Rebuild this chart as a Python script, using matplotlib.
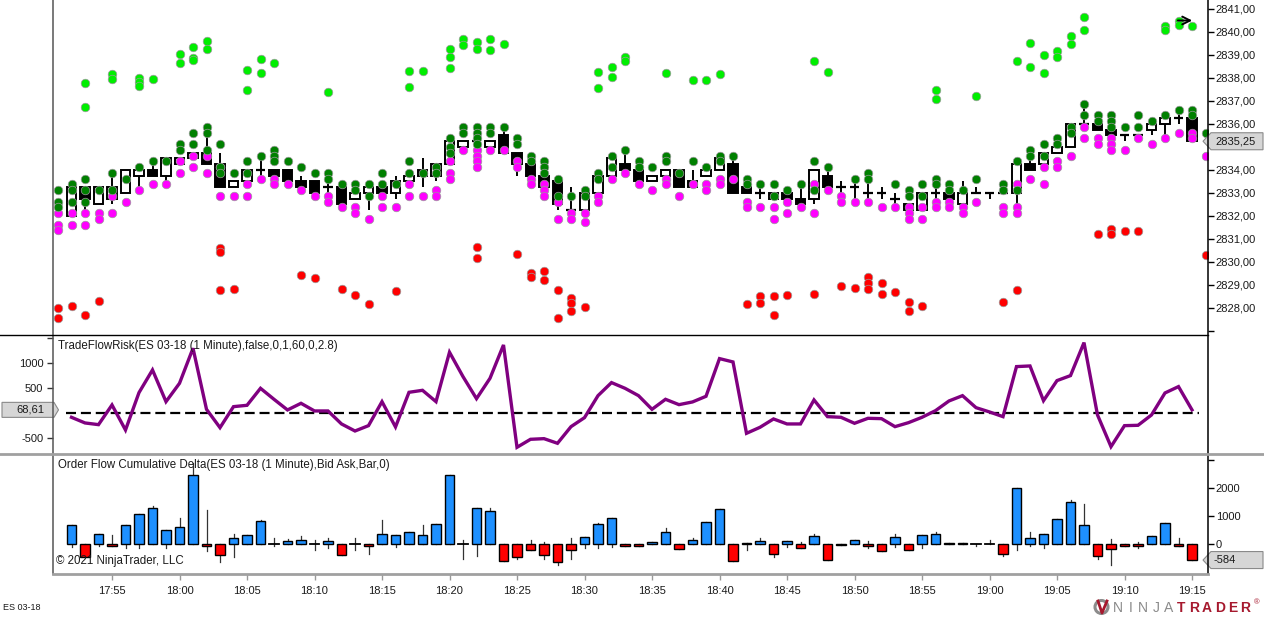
import matplotlib
matplotlib.use('Agg')
import matplotlib.pyplot as plt
from matplotlib.patches import Rectangle, Polygon, Circle
import numpy as np

plt.rcParams['font.family'] = ['Liberation Sans', 'DejaVu Sans']

# ---------------- data ----------------
first_minute = (17, 51)          # bar index 0 = 17:51
tick_labels = ["17:55", "18:00", "18:05", "18:10", "18:15", "18:20", "18:25", "18:30",
               "18:35", "18:40", "18:45", "18:50", "18:55", "19:00", "19:05", "19:10", "19:15"]
tick_index = [4 + 5 * k for k in range(len(tick_labels))]

candle_start = 1
candle_open = [2832.0, 2833.25, 2832.5, 2832.75, 2833.0, 2833.75, 2834.0, 2833.75, 2834.25, 2834.5,
               2834.75, 2834.25, 2833.25, 2833.5, 2834.0, 2834.0, 2834.0, 2833.5, 2833.5, 2833.25,
               2833.25, 2832.75, 2833.0, 2833.25, 2833.0, 2833.5, 2834.0, 2833.75, 2834.25, 2835.0,
               2835.25, 2835.0, 2835.5, 2834.75, 2834.25, 2833.75, 2833.5, 2832.25, 2832.25, 2833.0,
               2833.75, 2834.25, 2834.0, 2833.5, 2833.75, 2834.0, 2833.5, 2833.75, 2834.0, 2834.25,
               2833.25, 2833.0, 2833.0, 2833.0, 2832.75, 2832.75, 2833.75, 2833.25, 2833.25, 2833.0,
               2833.0, 2832.75, 2832.5, 2832.25, 2833.0, 2833.0, 2832.5, 2833.0, 2833.0, 2833.0,
               2833.0, 2834.25, 2834.25, 2834.75, 2835.0, 2836.0, 2836.0, 2835.75, 2835.5, 2835.5,
               2835.75, 2836.0, 2836.25, 2836.25]
candle_high = [2833.25, 2833.25, 2833.25, 2834.0, 2834.0, 2834.0, 2834.25, 2834.5, 2834.5, 2834.75,
               2835.5, 2834.75, 2833.5, 2834.0, 2834.5, 2834.0, 2834.0, 2833.75, 2833.5, 2833.75,
               2833.25, 2833.0, 2833.25, 2833.5, 2833.75, 2833.75, 2834.5, 2834.25, 2835.25, 2835.25,
               2835.25, 2835.25, 2835.75, 2834.75, 2834.25, 2833.75, 2833.5, 2833.25, 2833.0, 2833.75,
               2834.5, 2834.75, 2834.0, 2833.75, 2834.0, 2834.0, 2834.0, 2834.0, 2834.5, 2834.5,
               2833.25, 2833.25, 2833.0, 2833.0, 2833.25, 2834.0, 2834.0, 2833.5, 2833.5, 2833.5,
               2833.25, 2833.0, 2832.5, 2833.0, 2833.25, 2833.0, 2833.5, 2833.25, 2833.0, 2833.0,
               2834.25, 2834.5, 2834.75, 2835.0, 2836.0, 2836.75, 2836.0, 2835.75, 2835.5, 2835.5,
               2836.0, 2836.25, 2836.5, 2836.25]
candle_low = [2832.0, 2832.25, 2832.5, 2832.5, 2833.0, 2833.25, 2833.75, 2833.5, 2834.25, 2834.5,
              2834.25, 2833.25, 2833.25, 2833.5, 2833.75, 2833.75, 2833.5, 2833.25, 2833.0, 2832.75,
              2832.5, 2832.75, 2832.25, 2832.75, 2832.75, 2833.5, 2833.25, 2833.5, 2834.25, 2835.0,
              2835.25, 2835.0, 2834.75, 2833.75, 2833.75, 2833.25, 2832.25, 2832.25, 2832.25, 2833.0,
              2833.75, 2834.0, 2833.5, 2833.5, 2833.75, 2833.25, 2833.25, 2833.75, 2834.0, 2833.0,
              2833.0, 2832.75, 2832.75, 2832.75, 2832.5, 2832.5, 2833.25, 2833.0, 2832.75, 2832.75,
              2832.75, 2832.5, 2832.25, 2832.25, 2832.75, 2832.75, 2832.5, 2833.0, 2832.75, 2833.0,
              2832.5, 2834.0, 2834.25, 2834.75, 2835.0, 2836.0, 2835.75, 2835.5, 2835.25, 2835.5,
              2835.5, 2835.5, 2836.0, 2835.25]
candle_close = [2833.25, 2832.75, 2833.25, 2833.25, 2834.0, 2834.0, 2833.75, 2834.5, 2834.5, 2834.75,
                2834.25, 2833.25, 2833.5, 2834.0, 2834.0, 2833.75, 2833.5, 2833.25, 2833.0, 2833.25,
                2832.5, 2833.0, 2833.25, 2833.0, 2833.5, 2833.75, 2833.75, 2834.25, 2835.25, 2835.25,
                2835.25, 2835.25, 2834.75, 2834.25, 2833.75, 2833.25, 2832.5, 2832.25, 2833.0, 2833.75,
                2834.5, 2834.0, 2833.5, 2833.75, 2834.0, 2833.25, 2833.25, 2834.0, 2834.5, 2833.0,
                2833.0, 2833.0, 2832.75, 2832.75, 2832.5, 2834.0, 2833.25, 2833.25, 2833.25, 2833.0,
                2833.0, 2832.75, 2832.25, 2833.0, 2833.0, 2832.75, 2833.0, 2833.0, 2833.0, 2833.0,
                2834.25, 2834.0, 2834.75, 2835.0, 2836.0, 2836.0, 2835.75, 2835.5, 2835.5, 2835.5,
                2836.0, 2836.25, 2836.25, 2835.25]

green_dots = {
    0: [2833.125, 2832.625, 2832.375], 1: [2833.375, 2833.125, 2832.625], 2: [2833.625, 2833.125, 2832.625],
    3: [2833.125], 4: [2833.875, 2833.125], 5: [2833.625], 6: [2834.125], 7: [2834.375], 8: [2834.375],
    9: [2835.125, 2834.875], 10: [2835.625, 2835.125], 11: [2835.875, 2835.625, 2834.875],
    12: [2835.125, 2834.125, 2833.875], 13: [2833.875], 14: [2834.375, 2833.875], 15: [2834.625],
    16: [2834.875, 2834.625, 2834.375], 17: [2834.375], 18: [2834.125], 19: [2833.875],
    20: [2833.875, 2833.625], 21: [2833.375], 22: [2833.375, 2833.125], 23: [2833.375, 2832.875],
    24: [2833.875, 2833.375], 25: [2833.375], 26: [2834.375, 2833.875], 27: [2833.875],
    28: [2834.125, 2833.875], 29: [2835.375, 2835.0, 2834.75], 30: [2835.875, 2835.625],
    31: [2835.875, 2835.625, 2835.375, 2835.125], 32: [2835.875, 2835.625], 33: [2835.875],
    34: [2835.375, 2835.125], 35: [2834.625, 2834.375], 36: [2834.375, 2834.125, 2833.875],
    37: [2833.625, 2832.875], 38: [2832.875], 39: [2833.125, 2832.875], 40: [2833.875, 2833.625],
    41: [2834.625, 2834.125], 42: [2834.875], 43: [2834.375, 2834.125], 44: [2834.125],
    45: [2834.625, 2834.375], 46: [2833.875], 47: [2834.375], 48: [2834.125], 49: [2834.625, 2834.375],
    50: [2834.625], 51: [2833.625, 2833.375], 52: [2833.375], 53: [2833.375, 2832.875], 54: [2833.125],
    55: [2833.375], 56: [2834.375, 2833.125], 57: [2834.125], 59: [2833.625], 60: [2833.875, 2833.625],
    62: [2833.375], 63: [2833.125, 2832.875], 64: [2833.375, 2832.875], 65: [2833.625, 2833.375],
    66: [2833.375, 2833.125], 67: [2833.125], 68: [2833.625], 70: [2833.375, 2833.125],
    71: [2834.375, 2833.125], 72: [2834.875, 2834.625], 73: [2835.125, 2834.625], 74: [2835.375, 2835.125],
    75: [2835.875, 2835.625], 76: [2836.875, 2836.375], 77: [2836.375, 2836.125],
    78: [2836.375, 2836.125, 2835.875], 79: [2835.875], 80: [2836.375, 2835.875], 81: [2836.125],
    82: [2836.375], 83: [2836.625], 84: [2836.625, 2836.375], 85: [2835.625],
}
magenta_dots = {
    0: [2832.125, 2831.625, 2831.375], 1: [2832.125, 2831.625], 2: [2832.125, 2831.625],
    3: [2832.125, 2831.875], 4: [2832.875, 2832.125], 5: [2832.625], 6: [2833.125], 7: [2833.375],
    8: [2833.375], 9: [2834.375, 2833.875], 10: [2834.625, 2834.125], 11: [2834.625, 2833.875],
    12: [2834.125, 2832.875], 13: [2832.875], 14: [2833.375, 2832.875], 15: [2833.625],
    16: [2833.625, 2833.375], 17: [2833.375], 18: [2833.125], 19: [2832.875], 20: [2832.875, 2832.625],
    21: [2832.375], 22: [2832.375, 2832.125], 23: [2831.875], 24: [2832.875, 2832.375], 25: [2832.375],
    26: [2833.375, 2832.875], 27: [2832.875], 28: [2833.125, 2832.875], 29: [2834.375, 2833.875, 2833.625],
    30: [2834.875], 31: [2834.875, 2834.625, 2834.375, 2834.125], 32: [2834.875], 33: [2834.875],
    34: [2834.375, 2834.125], 35: [2833.625, 2833.375], 36: [2833.375, 2833.125, 2832.875],
    37: [2832.625, 2831.875], 38: [2832.125, 2831.875], 39: [2832.125, 2831.75], 40: [2832.875, 2832.625],
    41: [2833.625], 42: [2833.875], 43: [2833.375], 44: [2833.125], 45: [2833.625, 2833.375],
    46: [2832.875], 47: [2833.375], 48: [2833.375, 2833.125], 49: [2833.625, 2833.375], 50: [2833.625],
    51: [2832.625, 2832.375], 52: [2832.375], 53: [2832.375, 2831.875], 54: [2832.625, 2832.125],
    55: [2832.375], 56: [2833.375, 2832.125], 57: [2833.125], 58: [2832.875, 2832.625],
    59: [2832.625], 60: [2832.625], 61: [2832.375], 62: [2832.375], 63: [2832.375, 2832.125, 2831.875],
    64: [2832.375, 2831.875], 65: [2832.625, 2832.375], 66: [2832.625, 2832.375], 67: [2832.375, 2832.125],
    68: [2832.625], 70: [2832.375, 2832.125], 71: [2833.375, 2832.375, 2832.125], 72: [2833.625],
    73: [2834.125, 2833.375], 74: [2834.375, 2834.125], 75: [2834.625], 76: [2835.875, 2835.375],
    77: [2835.375, 2835.125], 78: [2835.375, 2835.125, 2834.875], 79: [2834.875], 80: [2835.375],
    81: [2835.125], 82: [2835.375], 83: [2835.625], 84: [2835.625, 2835.375], 85: [2834.625],
}
red_dots = {
    0: [2828.0, 2827.57], 1: [2828.1], 2: [2827.71], 3: [2828.3], 12: [2830.62, 2830.45, 2828.78],
    13: [2828.83], 18: [2829.45], 19: [2829.32], 21: [2828.83], 22: [2828.55], 23: [2828.17],
    25: [2828.75], 31: [2830.64, 2830.19], 34: [2830.36], 35: [2829.52, 2829.35], 36: [2829.61, 2829.2],
    37: [2828.8, 2827.58], 38: [2828.43, 2828.22, 2827.86], 39: [2828.03], 51: [2828.17],
    52: [2828.53, 2828.2], 53: [2828.52, 2827.68], 54: [2828.57], 56: [2828.6], 58: [2828.97],
    59: [2828.86], 60: [2829.35, 2829.07, 2828.81], 61: [2829.07, 2828.61], 62: [2828.71],
    63: [2828.27, 2827.88], 64: [2828.09], 70: [2828.25], 71: [2828.78], 77: [2831.22],
    78: [2831.42, 2831.22], 79: [2831.33], 80: [2831.35], 85: [2830.29],
}
lime_dots = {
    2: [2837.77, 2836.73], 4: [2838.19, 2837.94], 6: [2838.01, 2837.84, 2837.65], 7: [2837.94],
    9: [2839.06, 2838.67], 10: [2839.36, 2838.86, 2838.77], 11: [2839.61, 2839.27],
    14: [2838.33, 2837.47], 15: [2838.84, 2838.22], 16: [2838.64], 20: [2837.39],
    26: [2838.32, 2837.62], 27: [2838.32], 29: [2839.25, 2838.93, 2838.45], 30: [2839.68, 2839.42],
    31: [2839.55, 2839.25], 32: [2839.68, 2839.22], 33: [2839.46], 40: [2838.26, 2837.55],
    41: [2838.49, 2838.03], 42: [2838.93, 2838.75], 45: [2838.22], 47: [2837.9], 48: [2837.9],
    49: [2838.19], 56: [2838.74], 57: [2838.26], 65: [2837.48, 2837.07], 68: [2837.23],
    71: [2838.74], 72: [2839.54, 2838.49], 73: [2838.99, 2838.22], 74: [2839.17, 2838.9],
    75: [2839.83, 2839.46], 76: [2840.65, 2840.07], 82: [2840.26, 2840.09], 83: [2840.48, 2840.3],
    84: [2840.26],
}

tfr_start = 1
tfr_values = [-80, -193, -227, 167, -334, 414, 867, 233, 600, 1301,
              80, -287, 133, 160, 500, 280, 67, 200, 47, 47,
              -213, -354, -247, 233, -273, 420, 460, 233, 1221, 734,
              293, 700, 1367, -680, -520, -507, -600, -267, -87, 353,
              614, 500, 353, 80, 280, 173, 227, 340, 1094, 1027,
              -400, -280, -113, -213, -213, 267, -67, -80, -200, -100,
              -107, -267, -187, -80, 53, 247, 353, 113, 27, -67,
              934, 947, 253, 654, 754, 1414, -33, -667, -247, -240,
              -33, 407, 534, 68.61]

delta_start = 1
delta_close = [651, -458, 361, -96, 675, 1060, 1289, 482, 602, 2446,
               -72, -410, 217, 313, 819, 0, 96, 133, 0, 96,
               -410, 0, -72, 361, 313, 410, 313, 699, 2470, 0,
               1277, 1169, -615, -458, -229, -410, -639, -229, 229, 699,
               916, -72, -72, 48, 410, -205, 120, 759, 1253, -603,
               36, 96, -361, 96, -169, 277, -566, -60, 120, -96,
               -253, 229, -217, 301, 337, 36, 36, 0, 0, -374,
               2000, 193, 337, 880, 1506, 675, -422, -205, -84, -72,
               277, 735, -84, -584]
delta_high = [651, 0, 361, 313, 675, 1060, 1362, 482, 916, 2900,
              1217, 0, 337, 313, 855, 193, 169, 277, 133, 193,
              0, 193, 0, 855, 313, 410, 651, 699, 2470, 133,
              1277, 1277, 0, 0, 120, 48, 0, 217, 229, 735,
              916, 0, 0, 48, 555, 0, 193, 759, 1253, 0,
              36, 193, 0, 96, 48, 337, 0, 0, 120, 96,
              0, 350, 0, 301, 434, 36, 36, 0, 133, 0,
              2000, 410, 337, 880, 1554, 1434, 0, 157, 0, 48,
              277, 735, 193, 0]
delta_low = [-108, -458, -72, -96, -145, -169, 0, -169, 0, 0,
             -265, -651, -470, 0, 0, -72, 0, 0, -229, -169,
             -410, -229, -350, 0, -108, 0, 0, 0, 0, -530,
             -446, 0, -615, -530, -229, -530, -747, -530, -145, -145,
             -108, -72, -72, 0, 0, -205, 0, 0, 0, -603,
             -229, 0, -470, -108, -169, 0, -566, -60, 0, -169,
             -253, -108, -217, -169, 0, 0, 0, -84, 0, -446,
             -229, -84, -169, 0, 0, 0, -530, -747, -84, -145,
             0, 0, -84, -584]

# ---------------- layout ----------------
W, H = 1264, 617
fig = plt.figure(figsize=(W / 100, H / 100), dpi=100)
fig.patch.set_facecolor('white')

X0_PX, X1_PX = 53, 1207.5
BAR0_PX, BAR_STEP = 58.0, 13.5
xlim = ((X0_PX - BAR0_PX) / BAR_STEP, (X1_PX - BAR0_PX) / BAR_STEP)


def px_axes(x0, y0, x1, y1):
    a = fig.add_axes([x0 / W, 1 - y1 / H, (x1 - x0) / W, (y1 - y0) / H])
    a.set_facecolor('none')
    for s in a.spines.values():
        s.set_visible(False)
    a.set_xlim(*xlim)
    a.set_xticks([])
    return a


TXT = '#1a1a1a'
FS = 8

# price panel
ax_p = px_axes(X0_PX, 0, X1_PX, 335)
ax_p.set_ylim(2841 - 326 / 23, 2841 + 9 / 23)
ax_p.yaxis.tick_right()
pticks = list(range(2827, 2842))
ax_p.set_yticks(pticks)
ax_p.set_yticklabels(['' if t == 2827 else f"{t:.2f}".replace('.', ',') for t in pticks])
ax_p.tick_params(axis='y', length=4, width=1, colors='black', labelcolor=TXT, labelsize=FS, pad=2)

bw = 0.68
for k in range(len(candle_open)):
    i = candle_start + k
    o, h, l, c = candle_open[k], candle_high[k], candle_low[k], candle_close[k]
    ax_p.plot([i, i], [l, h], color='black', lw=1.4, zorder=2, solid_capstyle='butt')
    if o == c:
        ax_p.plot([i - bw / 2, i + bw / 2], [o, o], color='black', lw=1.6, zorder=3, solid_capstyle='butt')
    else:
        fc = 'white' if c > o else 'black'
        ax_p.add_patch(Rectangle((i - bw / 2, min(o, c)), bw, abs(c - o), facecolor=fc,
                                 edgecolor='black', lw=1.4, zorder=3))


def draw_dots(d, color):
    xs, ys = [], []
    for i, vals in d.items():
        for v in vals:
            xs.append(i)
            ys.append(v)
    ax_p.scatter(xs, ys, s=38, c=color, edgecolors='#9a9a9a', linewidths=0.5, zorder=5, clip_on=True)


draw_dots(lime_dots, '#00ee00')
draw_dots(red_dots, '#ff0000')
draw_dots(magenta_dots, '#ff00ff')
draw_dots(green_dots, '#008000')

# trade flow risk panel
ax_t = px_axes(X0_PX, 335, X1_PX, 454)
ax_t.set_ylim((413.3 - 454) / 0.05, (413.3 - 335) / 0.05)
ax_t.set_yticks([-500, 500, 1000, 1500])
ax_t.set_yticklabels(['-500', '500', '1000', ''])
ax_t.tick_params(axis='y', length=4, width=1, colors='#333333', labelcolor=TXT, labelsize=FS, pad=3)
tx = np.arange(tfr_start, tfr_start + len(tfr_values))
ax_t.hlines(0, 0.6, 84.5, colors='black', lw=1.6, linestyles=(0, (4.5, 2.2)), zorder=2)
ax_t.plot(tx, tfr_values, color='#800080', lw=2.4, zorder=3, solid_joinstyle='miter')

# cumulative delta panel
ax_d = px_axes(X0_PX, 454, X1_PX, 574)
ax_d.set_ylim((543.7 - 574) / 0.028, (543.7 - 454) / 0.028)
ax_d.yaxis.tick_right()
ax_d.set_yticks([0, 1000, 2000, 3000])
ax_d.set_yticklabels(['0', '1000', '2000', ''])
ax_d.tick_params(axis='y', length=4, width=1, colors='black', labelcolor=TXT, labelsize=FS, pad=2)
ax_d.set_xticks(tick_index)
ax_d.set_xticklabels(tick_labels)
ax_d.tick_params(axis='x', length=4, width=1, colors='#999999', labelcolor=TXT, labelsize=FS, pad=5)
dbw = 0.74
for k in range(len(delta_close)):
    i = delta_start + k
    c, h, l = delta_close[k], delta_high[k], delta_low[k]
    ax_d.plot([i, i], [l, h], color='#333333', lw=0.9, zorder=2)
    if c == 0:
        ax_d.plot([i - dbw / 2, i + dbw / 2], [0, 0], color='black', lw=1.3, zorder=3)
    else:
        fc = '#1e90ff' if c > 0 else '#ff0000'
        ax_d.add_patch(Rectangle((i - dbw / 2, min(0, c)), dbw, abs(c), facecolor=fc,
                                 edgecolor='black', lw=1.0, zorder=3))

# ---------------- overlay (frame, labels, logo) ----------------
ov = fig.add_axes([0, 0, 1, 1], zorder=10)
ov.set_xlim(0, W)
ov.set_ylim(H, 0)
ov.axis('off')
ov.patch.set_alpha(0)

ov.plot([X0_PX, X0_PX], [0, 574], color='#555555', lw=1.1)
ov.plot([X1_PX, X1_PX], [0, 574], color='black', lw=1.1)
ov.plot([0, X1_PX], [335, 335], color='black', lw=1.0)
ov.plot([0, W], [454, 454], color='#a0a0a0', lw=2.0)
ov.plot([X0_PX, X1_PX], [574, 574], color='#a0a0a0', lw=2.0)


def to_ov(ax, x, y):
    return ov.transData.inverted().transform(ax.transData.transform((x, y)))


ov.text(58, 346, "TradeFlowRisk(ES 03-18 (1 Minute),false,0,1,60,0,2.8)", fontsize=8.3, color=TXT,
        va='center', ha='left')
ov.text(58, 465, "Order Flow Cumulative Delta(ES 03-18 (1 Minute),Bid Ask,Bar,0)", fontsize=8.3,
        color=TXT, va='center', ha='left')
ov.text(56, 561, "\u00a9 2021 NinjaTrader, LLC", fontsize=8.3, color=TXT, va='center', ha='left')
ov.text(3, 607, "ES 03-18", fontsize=6.5, color=TXT, va='center', ha='left')


def left_label(yc, txt):
    pts = [(2, yc - 7.5), (54, yc - 7.5), (58.5, yc), (54, yc + 7.5), (2, yc + 7.5)]
    ov.add_patch(Polygon(pts, closed=True, facecolor='#d6d6d6', edgecolor='#8a8a8a', lw=0.8))
    ov.text(30, yc, txt, fontsize=FS, color=TXT, ha='center', va='center')


def right_label(yc, txt, ha='center'):
    pts = [(1203, yc), (1211, yc - 8.5), (1263, yc - 8.5), (1263, yc + 8.5), (1211, yc + 8.5)]
    ov.add_patch(Polygon(pts, closed=True, facecolor='#d6d6d6', edgecolor='#8a8a8a', lw=0.8))
    if ha == 'center':
        ov.text(1236, yc, txt, fontsize=FS, color=TXT, ha='center', va='center')
    else:
        ov.text(1214, yc, txt, fontsize=FS, color=TXT, ha='left', va='center')


last_price = candle_close[-1]
left_label(to_ov(ax_t, 0, tfr_values[-1])[1], f"{tfr_values[-1]:.2f}".replace('.', ','))
# hide the price tick label that the last-price box covers
for t, lab in zip(pticks, ax_p.get_yticklabels()):
    if abs(t - last_price) < 0.5:
        lab.set_visible(False)
right_label(to_ov(ax_p, 0, last_price)[1], f"{last_price:.2f}".replace('.', ','))
right_label(to_ov(ax_d, 0, delta_close[-1])[1], f"{delta_close[-1]}", ha='left')

# drawing-tool arrow at top right
ov.annotate('', xy=(1195, 20.5), xytext=(1175, 20.5),
            arrowprops=dict(arrowstyle='->', lw=1.4, color='black', mutation_scale=14))

# NinjaTrader logo
ov.add_patch(Circle((1101.5, 607), 6.5, facecolor='none', edgecolor='#8c8c8c', lw=2.2))
ov.plot([1098, 1102, 1107], [601, 613, 601], color='#a6192e', lw=2.0)
letters = "NINJATRADER"
for n, ch in enumerate(letters):
    ov.text(1117.5 + n * 12.8, 607.5, ch, fontsize=10, color='#8a8a8a' if n < 5 else '#a6192e',
            fontweight='normal' if n < 5 else 'bold', ha='center', va='center')
ov.text(1254, 603, "\u00ae", fontsize=5.5, color='#a6192e', ha='left', va='center')

fig.savefig('out.png', dpi=100, facecolor='white')
